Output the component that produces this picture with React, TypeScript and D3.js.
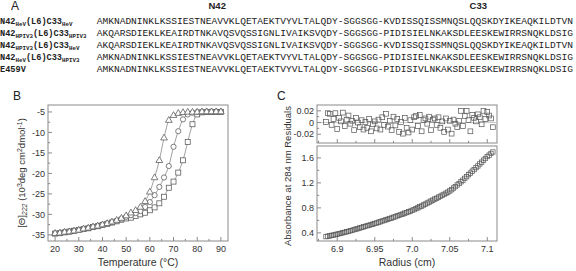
import React from "react";
import * as d3 from "d3";

const W = 576;
const H = 271;

// ---------- Panel A data ----------
const n42Subs = ["HeV", "HPIV3", "HPIV3", "HeV"];
const c33Subs = ["HeV", "HPIV3", "HeV", "HPIV3"];
const lastLabel = "E459V";
const sequences = [
  "AMKNADNINKLKSSIESTNEAVVKLQETAEKTVYVLTALQDY-SGGSGG-KVDISSQISSMNQSLQQSKDYIKEAQKILDTVN",
  "AKQARSDIEKLKEAIRDTNKAVQSVQSSIGNLIVAIKSVQDY-SGGSGG-PIDISIELNKAKSDLEESKEWIRRSNQKLDSIG",
  "AKQARSDIEKLKEAIRDTNKAVQSVQSSIGNLIVAIKSVQDY-SGGSGG-KVDISSQISSMNQSLQQSKDYIKEAQKILDTVN",
  "AMKNADNINKLKSSIESTNEAVVKLQETAEKTVYVLTALQDY-SGGSGG-PIDISIELNKAKSDLEESKEWIRRSNQKLDSIG",
  "AMKNADNINKLKSSIESTNEAVVKLQETAEKTVYVLTALQDY-SGGSGG-PIDISIVLNKAKSDLEESKEWIRRSNQKLDSIG",
];
const headerN42 = "N42";
const headerC33 = "C33";

// ---------- Panel B data ----------
const tempsB = [20, 22, 24, 26, 28, 30, 32, 34, 36, 38, 40, 42, 44, 46, 48, 50, 52, 54, 56, 58, 60, 62, 64, 66, 68, 70, 72, 74, 76, 78, 80, 82, 84, 86, 88, 90];
const thetaTriangle = [-34.6, -34.5, -34.3, -34.2, -34.0, -33.8, -33.5, -33.3, -33.0, -32.8, -32.5, -32.2, -31.8, -31.4, -30.9, -30.3, -29.6, -29.0, -28.2, -26.8, -24.5, -21.0, -16.8, -11.3, -7.0, -5.8, -5.3, -5.1, -5.0, -5.0, -5.0, -4.9, -4.9, -4.9, -4.9, -4.9];
const thetaCircle = [-34.6, -34.5, -34.3, -34.2, -34.0, -33.8, -33.6, -33.3, -33.1, -32.8, -32.5, -32.2, -31.9, -31.6, -31.1, -30.6, -30.2, -29.7, -29.2, -28.2, -27.0, -25.3, -23.3, -21.0, -18.2, -13.5, -9.7, -6.8, -5.6, -5.2, -5.0, -5.0, -4.9, -4.9, -4.9, -4.9];
const thetaSquare = [-34.7, -34.6, -34.4, -34.2, -34.0, -33.8, -33.6, -33.4, -33.1, -32.9, -32.6, -32.3, -32.0, -31.7, -31.3, -31.0, -30.8, -30.4, -30.0, -29.6, -29.0, -28.3, -27.3, -25.7, -23.5, -22.0, -19.8, -16.8, -12.3, -8.0, -5.6, -5.1, -5.0, -5.0, -5.0, -5.0];
const bXTicks = [20, 30, 40, 50, 60, 70, 80, 90];
const bXMinor = [25, 35, 45, 55, 65, 75, 85];
const bYTicks = [-5, -10, -15, -20, -25, -30, -35];
const bYMinor = [-7.5, -12.5, -17.5, -22.5, -27.5, -32.5];

// ---------- Panel C data ----------
const radiusC = [
  6.885, 6.8875, 6.89, 6.8925, 6.895, 6.8975, 6.9, 6.9025, 6.905, 6.9075,
  6.91, 6.9125, 6.915, 6.9175, 6.92, 6.9225, 6.925, 6.9275, 6.93, 6.9325,
  6.935, 6.9375, 6.94, 6.9425, 6.945, 6.9475, 6.95, 6.9525, 6.955, 6.9575,
  6.96, 6.9625, 6.965, 6.9675, 6.97, 6.9725, 6.975, 6.9775, 6.98, 6.9825,
  6.985, 6.9875, 6.99, 6.9925, 6.995, 6.9975, 7.0, 7.0025, 7.005, 7.0075,
  7.01, 7.0125, 7.015, 7.0175, 7.02, 7.0225, 7.025, 7.0275, 7.03, 7.0325,
  7.035, 7.0375, 7.04, 7.0425, 7.045, 7.0475, 7.05, 7.0525, 7.055, 7.0575,
  7.06, 7.0625, 7.065, 7.0675, 7.07, 7.0725, 7.075, 7.0775, 7.08, 7.0825,
  7.085, 7.0875, 7.09, 7.0925, 7.095, 7.0975, 7.1, 7.1025, 7.105, 7.1075,
];
const absorbance = [
  0.340, 0.347, 0.352, 0.360, 0.365, 0.374, 0.379, 0.388, 0.393, 0.403,
  0.408, 0.418, 0.424, 0.434, 0.441, 0.452, 0.461, 0.468, 0.479, 0.486,
  0.497, 0.504, 0.515, 0.522, 0.533, 0.540, 0.551, 0.558, 0.570, 0.578,
  0.590, 0.598, 0.610, 0.618, 0.630, 0.638, 0.651, 0.659, 0.672, 0.681,
  0.694, 0.702, 0.716, 0.725, 0.738, 0.747, 0.761, 0.772, 0.789, 0.801,
  0.818, 0.829, 0.847, 0.860, 0.877, 0.892, 0.910, 0.924, 0.941, 0.954,
  0.972, 0.985, 1.003, 1.017, 1.036, 1.051, 1.071, 1.091, 1.118, 1.140,
  1.167, 1.190, 1.218, 1.243, 1.273, 1.299, 1.331, 1.356, 1.387, 1.413,
  1.444, 1.471, 1.503, 1.531, 1.563, 1.590, 1.621, 1.644, 1.671, 1.694,
];
const residuals = [
  0.001, 0.016, 0.015, -0.004, 0.006, 0.016, -0.011, 0.008, 0.002, 0.017,
  -0.006, 0.005, 0.012, -0.002, 0.003, -0.013, 0.008, 0.0, -0.008, 0.004,
  -0.012, 0.001, -0.009, 0.006, -0.015, -0.003, 0.002, -0.010, 0.005, -0.012,
  0.009, -0.004, 0.015, -0.007, 0.003, -0.013, 0.010, -0.005, 0.006, -0.016,
  0.001, -0.019, 0.008, -0.009, -0.017, 0.004, -0.012, 0.009, 0.011, -0.006,
  0.013, -0.015, 0.004, 0.007, -0.002, 0.010, -0.013, 0.005, 0.007, -0.004,
  0.009, -0.009, 0.002, -0.016, 0.007, -0.012, 0.003, -0.019, 0.005, -0.002,
  -0.008, 0.003, 0.020, -0.006, 0.011, 0.020, 0.004, -0.015, 0.013, 0.008,
  0.002, 0.014, 0.009, -0.003, 0.020, 0.006, 0.018, 0.012, 0.007, -0.008,
];
const cXTicks = [6.9, 6.95, 7.0, 7.05, 7.1];
const cXLabels = ["6.9", "6.95", "7.0", "7.05", "7.1"];
const cXMinor = [6.875, 6.925, 6.975, 7.025, 7.075];
const cYTicks = [0.4, 0.8, 1.2, 1.6];
const cYLabels = ["0.4", "0.8", "1.2", "1.6"];
const cYMinor = [0.6, 1.0, 1.4];
const rYTicks = [0.02, 0, -0.02];
const rYLabels = ["0.02", "0", "-0.02"];
const rYMinor = [0.01, -0.01];

const SANS = "'Liberation Sans', Arial, Helvetica, sans-serif";
const MONO = "'Courier New', 'Liberation Mono', monospace";
const AXIS = "#8a8a8a";
const TXT = "#333";
const MARK = "#555";

function Frame({ x0, x1, y0, y1 }: { x0: number; x1: number; y0: number; y1: number }) {
  return <rect x={x0} y={y0} width={x1 - x0} height={y1 - y0} fill="none" stroke={AXIS} strokeWidth={1} />;
}

export default function App() {
  // Panel B geometry
  const bL = 48, bR = 228, bT = 105, bB = 241;
  const bx = d3.scaleLinear().domain([17, 93]).range([bL, bR]);
  const by = d3.scaleLinear().domain([-36.5, -3.3]).range([bB, bT]);
  const lineB = d3
    .line<number>()
    .x((_, i) => bx(tempsB[i]))
    .y((d) => by(d))
    .curve(d3.curveMonotoneX);

  // Panel C geometry
  const cL = 317, cR = 497;
  const rT = 105, rB = 143;
  const lT = 146, lB = 241;
  const cx = d3.scaleLinear().domain([6.873, 7.113]).range([cL, cR]);
  const cyL = d3.scaleLinear().domain([0.27, 1.79]).range([lB, lT]);
  const cyR = d3.scaleLinear().domain([-0.035, 0.03]).range([rB, rT]);

  const seqX = 96.7;
  const seqW = 476.3;
  const charW = seqW / sequences[0].length;
  const rowY = [24, 36, 48, 60, 72];
  const tickY = 251.5;
  const titleY = 266;

  const tri = (x: number, y: number, s: number) =>
    `M${x},${y - s * 0.62}L${x + s * 0.58},${y + s * 0.38}L${x - s * 0.58},${y + s * 0.38}Z`;

  return (
    <svg
      width={W}
      height={H}
      viewBox={`0 0 ${W} ${H}`}
      style={{ position: "fixed", left: 0, top: 0, background: "#fff" }}
      fontFamily={SANS}
    >
      <rect width={W} height={H} fill="#fff" />

      {/* ---------- Panel A ---------- */}
      <text x={11} y={10} fontSize={12} fill="#222">A</text>
      <text x={seqX + charW * 21} y={9} fontSize={9.5} fontWeight="bold" textAnchor="middle" fill="#222">{headerN42}</text>
      <text x={seqX + charW * 66.5} y={9} fontSize={9.5} fontWeight="bold" textAnchor="middle" fill="#222">{headerC33}</text>
      {rowY.map((y, i) => (
        <text key={"lab" + i} x={0} y={y} fontFamily={MONO} fontWeight="bold" fontSize={8.6} fill="#222">
          {i < 4 ? (
            <>
              <tspan>N42</tspan>
              <tspan fontSize={5.8} dy={2}>{n42Subs[i]}</tspan>
              <tspan dy={-2}>(L6)C33</tspan>
              <tspan fontSize={5.8} dy={2}>{c33Subs[i]}</tspan>
            </>
          ) : (
            <tspan>{lastLabel}</tspan>
          )}
        </text>
      ))}
      {sequences.map((s, i) => (
        <text
          key={"seq" + i}
          x={seqX}
          y={rowY[i]}
          fontFamily={MONO}
          fontSize={9.5}
          fill="#222"
          textLength={seqW}
          lengthAdjust="spacingAndGlyphs"
        >
          {s}
        </text>
      ))}

      {/* ---------- Panel B ---------- */}
      <text x={13} y={100} fontSize={12} fill="#222">B</text>
      <Frame x0={bL} x1={bR} y0={bT} y1={bB} />
      {bXTicks.map((t) => (
        <g key={"bxt" + t}>
          <line x1={bx(t)} x2={bx(t)} y1={bB} y2={bB - 4} stroke={AXIS} />
          <text x={bx(t)} y={tickY} fontSize={9} textAnchor="middle" fill={TXT}>{t}</text>
        </g>
      ))}
      {bXMinor.map((t) => (
        <line key={"bxm" + t} x1={bx(t)} x2={bx(t)} y1={bB} y2={bB - 2.2} stroke={AXIS} />
      ))}
      {bYTicks.map((t) => (
        <g key={"byt" + t}>
          <line x1={bL} x2={bL + 4} y1={by(t)} y2={by(t)} stroke={AXIS} />
          <text x={bL - 3} y={by(t) + 3.2} fontSize={9} textAnchor="end" fill={TXT}>{t}</text>
        </g>
      ))}
      {bYMinor.map((t) => (
        <line key={"bym" + t} x1={bL} x2={bL + 2.2} y1={by(t)} y2={by(t)} stroke={AXIS} />
      ))}
      <text x={(bL + bR) / 2} y={titleY} fontSize={10.5} textAnchor="middle" fill={TXT}>Temperature (°C)</text>
      <text transform={`translate(25,${(bT + bB) / 2}) rotate(-90)`} fontSize={9.5} textAnchor="middle" fill={TXT}>
        <tspan>[Θ]</tspan>
        <tspan fontSize={7} dy={2} fontStyle="italic">222</tspan>
        <tspan dy={-2}> (10</tspan>
        <tspan fontSize={7} dy={-3}>3</tspan>
        <tspan dy={3}>deg cm</tspan>
        <tspan fontSize={7} dy={-3}>2</tspan>
        <tspan dy={3}>dmol</tspan>
        <tspan fontSize={7} dy={-3}>-1</tspan>
        <tspan dy={3}>)</tspan>
      </text>

      {[thetaTriangle, thetaCircle, thetaSquare].map((s, k) => (
        <path key={"bl" + k} d={lineB(s) || ""} fill="none" stroke="#777" strokeWidth={0.7} />
      ))}
      {thetaSquare.map((v, i) => (
        <rect key={"bs" + i} x={bx(tempsB[i]) - 2.5} y={by(v) - 2.5} width={5} height={5} fill="#fff" stroke={MARK} strokeWidth={0.75} />
      ))}
      {thetaCircle.map((v, i) => (
        <circle key={"bc" + i} cx={bx(tempsB[i])} cy={by(v)} r={2.6} fill="#fff" stroke={MARK} strokeWidth={0.75} />
      ))}
      {thetaTriangle.map((v, i) => (
        <path key={"bt" + i} d={tri(bx(tempsB[i]), by(v), 5.8)} fill="#fff" stroke={MARK} strokeWidth={0.75} />
      ))}

      {/* ---------- Panel C ---------- */}
      <text x={277} y={100} fontSize={12} fill="#222">C</text>
      <Frame x0={cL} x1={cR} y0={rT} y1={rB} />
      <Frame x0={cL} x1={cR} y0={lT} y1={lB} />
      <line x1={cL} x2={cR} y1={cyR(0)} y2={cyR(0)} stroke="#bbb" strokeWidth={0.8} />
      {cXTicks.map((t, i) => (
        <g key={"cxt" + i}>
          <line x1={cx(t)} x2={cx(t)} y1={lB} y2={lB - 4} stroke={AXIS} />
          <line x1={cx(t)} x2={cx(t)} y1={rB} y2={rB - 4} stroke={AXIS} />
          <text x={cx(t)} y={tickY} fontSize={9} textAnchor="middle" fill={TXT}>{cXLabels[i]}</text>
        </g>
      ))}
      {cXMinor.map((t, i) => (
        <g key={"cxm" + i}>
          <line x1={cx(t)} x2={cx(t)} y1={lB} y2={lB - 2.2} stroke={AXIS} />
          <line x1={cx(t)} x2={cx(t)} y1={rB} y2={rB - 2.2} stroke={AXIS} />
        </g>
      ))}
      {cYTicks.map((t, i) => (
        <g key={"cyt" + i}>
          <line x1={cL} x2={cL + 4} y1={cyL(t)} y2={cyL(t)} stroke={AXIS} />
          <text x={cL - 3} y={cyL(t) + 3.2} fontSize={9} textAnchor="end" fill={TXT}>{cYLabels[i]}</text>
        </g>
      ))}
      {cYMinor.map((t, i) => (
        <line key={"cym" + i} x1={cL} x2={cL + 2.2} y1={cyL(t)} y2={cyL(t)} stroke={AXIS} />
      ))}
      {rYTicks.map((t, i) => (
        <g key={"ryt" + i}>
          <line x1={cL} x2={cL + 4} y1={cyR(t)} y2={cyR(t)} stroke={AXIS} />
          <text x={cL - 3} y={cyR(t) + 3.2} fontSize={9} textAnchor="end" fill={TXT}>{rYLabels[i]}</text>
        </g>
      ))}
      {rYMinor.map((t, i) => (
        <line key={"rym" + i} x1={cL} x2={cL + 2.2} y1={cyR(t)} y2={cyR(t)} stroke={AXIS} />
      ))}
      {absorbance.map((v, i) => (
        <rect key={"ca" + i} x={cx(radiusC[i]) - 2.2} y={cyL(v) - 2.2} width={4.4} height={4.4} fill="none" stroke={MARK} strokeWidth={0.7} />
      ))}
      {residuals.map((v, i) => (
        <rect key={"cr" + i} x={cx(radiusC[i]) - 2.4} y={cyR(v) - 2.4} width={4.8} height={4.8} fill="none" stroke={MARK} strokeWidth={0.7} />
      ))}
      <text x={(cL + cR) / 2} y={titleY} fontSize={10.5} textAnchor="middle" fill={TXT}>Radius (cm)</text>
      <text transform={`translate(291,176) rotate(-90)`} fontSize={9.5} textAnchor="middle" fill={TXT}>
        Absorbance at 284 nm Residuals
      </text>
    </svg>
  );
}
